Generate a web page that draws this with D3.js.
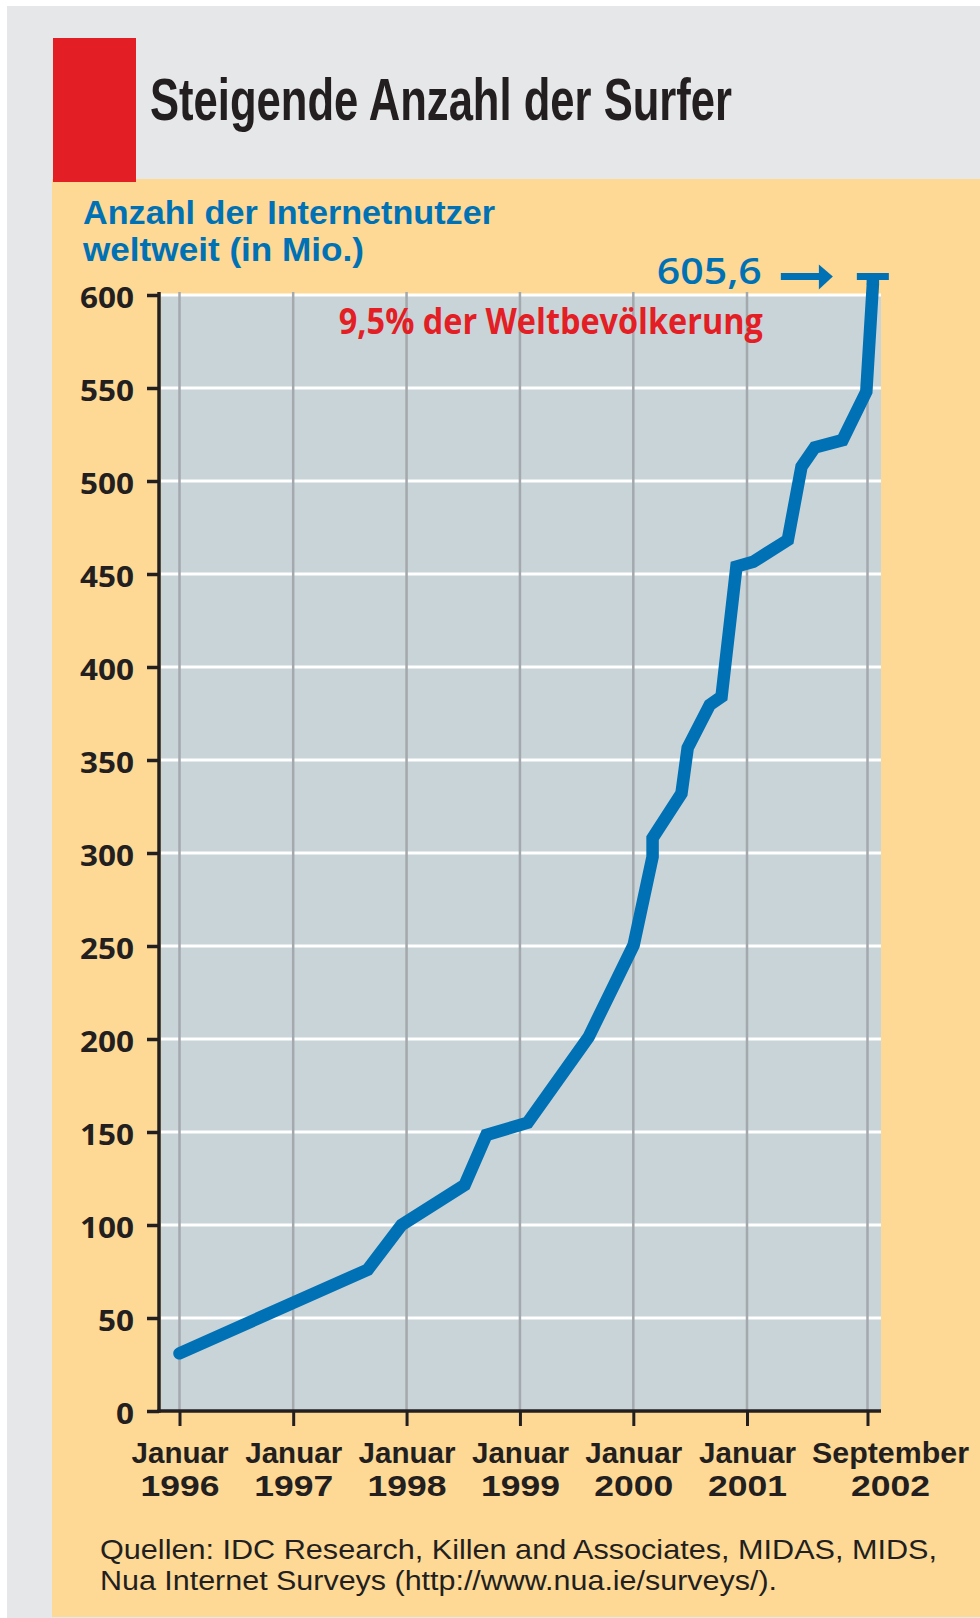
<!DOCTYPE html>
<html lang="de">
<head>
<meta charset="utf-8">
<title>Steigende Anzahl der Surfer</title>
<script src="https://cdn.jsdelivr.net/npm/d3@7"></script>
<style>
  html, body { margin: 0; padding: 0; background: #fff; }
  svg { display: block; }
</style>
</head>
<body>
<svg id="chart"></svg>
<script>
// texts
const title = "Steigende Anzahl der Surfer";
const yTitle = ["Anzahl der Internetnutzer", "weltweit (in Mio.)"];
const noteText = "9,5% der Weltbevölkerung";
const lastLabel = "605,6";
const sources = ["Quellen: IDC Research, Killen and Associates, MIDAS, MIDS,",
                 "Nua Internet Surveys (http://www.nua.ie/surveys/)."];

// data (Mio. internet users)
const dates = ["1996-01-01", "1997-08-29", "1997-12-16", "1998-07-07", "1998-09-15",
               "1999-01-26", "1999-08-10", "2000-01-02", "2000-03-03", "2000-03-03",
               "2000-06-04", "2000-06-24", "2000-09-03", "2000-10-11", "2000-11-28",
               "2001-02-02", "2001-07-26", "2001-10-03", "2001-12-09", "2002-04-28",
               "2002-08-26", "2002-09-28"];
const users = [31, 76, 100, 121.5, 148.4,
               155, 201, 250.5, 298, 308,
               332, 356.5, 379.6, 384, 454,
               456.6, 468.3, 507.7, 518, 522,
               548, 605.6];

// ticks
const tickDates = ["1996-01-01", "1997-01-01", "1998-01-01", "1999-01-01",
                   "2000-01-01", "2001-01-01", "2002-09-01"];
const tickMonths = ["Januar", "Januar", "Januar", "Januar", "Januar", "Januar", "September"];
const tickYears = ["1996", "1997", "1998", "1999", "2000", "2001", "2002"];
const yTicks = [0, 50, 100, 150, 200, 250, 300, 350, 400, 450, 500, 550, 600];

const W = 980, H = 1618;
const BLUE = "#0071b4", RED = "#e31e24", INK = "#231f20";
const narrow = "'Liberation Sans Narrow', 'Liberation Sans', Arial, sans-serif";
const tight = "'Liberation Sans', Arial, sans-serif";
const plain = "'Open Sans', 'DejaVu Sans', sans-serif";

const parse = d3.timeParse("%Y-%m-%d");
const series = dates.map((d, i) => ({date: parse(d), value: users[i]}));

const plotL = 159, plotR = 881, plotT = 295, plotB = 1411;

// the original squeezes the last 20 months, so the time scale is piecewise
const x = d3.scaleTime()
  .domain([parse("1996-01-01"), parse("2001-01-01"), parse("2002-09-01")])
  .range([179.5, 747, 867.5]);
const y = d3.scaleLinear().domain([0, 600]).range([plotB, plotT]);

const svg = d3.select("#chart").attr("width", W).attr("height", H);

function fit(sel, w) {
  return sel.attr("textLength", w).attr("lengthAdjust", "spacingAndGlyphs");
}

// two-line text in one element
function twoLines(sel, lines, x0, y0, gap, widths) {
  lines.forEach((t, i) => {
    fit(sel.append("tspan").attr("x", x0).attr(i ? "dy" : "y", i ? gap : y0).text(t), widths[i]);
  });
  return sel;
}

// frame
svg.append("rect").attr("x", 7).attr("y", 6).attr("width", W - 7).attr("height", H - 6)
  .attr("fill", "#e6e7e8");
svg.append("rect").attr("x", 52).attr("y", 179).attr("width", W - 52).attr("height", 1438)
  .attr("fill", "#fdd995");
svg.append("rect").attr("x", 53).attr("y", 38).attr("width", 83).attr("height", 144)
  .attr("fill", RED);

fit(svg.append("text").attr("x", 150).attr("y", 120)
  .style("font-family", narrow).style("font-weight", "bold").style("font-size", "60px")
  .attr("fill", INK).text(title), 582);

// y title
twoLines(svg.append("text")
  .style("font-family", narrow).style("font-weight", "bold").style("font-size", "33px")
  .attr("fill", BLUE), yTitle, 83, 224, 37, [412, 281]);

// plot area
svg.append("rect").attr("x", plotL + 2).attr("y", plotT).attr("width", plotR - plotL - 2)
  .attr("height", plotB - plotT).attr("fill", "#c9d4d9");

svg.append("g").selectAll("line").data(yTicks.filter(d => d > 0)).enter().append("line")
  .attr("x1", plotL + 2).attr("x2", plotR)
  .attr("y1", d => y(d)).attr("y2", d => y(d))
  .attr("stroke", "#fff").attr("stroke-width", 3);

svg.append("g").selectAll("line").data(tickDates).enter().append("line")
  .attr("x1", d => x(parse(d))).attr("x2", d => x(parse(d)))
  .attr("y1", plotT - 3).attr("y2", plotB)
  .attr("stroke", "#a3a9ac").attr("stroke-width", 2.5);

// y axis
const yAxis = svg.append("g").attr("transform", `translate(${plotL},0)`)
  .call(d3.axisLeft(y).tickValues(yTicks).tickSize(12).tickSizeOuter(0).tickPadding(13));
yAxis.select(".domain").remove();
yAxis.selectAll(".tick line").attr("stroke", INK).attr("stroke-width", 3.5);
yAxis.selectAll(".tick text")
  .attr("dy", "0.46em")
  .style("font-family", plain).style("font-weight", "bold").style("font-size", "28px")
  .attr("fill", INK)
  .attr("textLength", d => String(d).length * 18).attr("lengthAdjust", "spacingAndGlyphs");

// x axis
const xAxis = svg.append("g").attr("transform", `translate(0,${plotB})`)
  .call(d3.axisBottom(x).tickValues(tickDates.map(parse)).tickSize(15).tickSizeOuter(0));
xAxis.select(".domain").remove();
xAxis.selectAll(".tick line").attr("stroke", INK).attr("stroke-width", 3);
xAxis.selectAll(".tick text").remove();
xAxis.selectAll(".tick").each(function(d, i) {
  const dx = i === tickDates.length - 1 ? 22.5 : 0;
  const t = d3.select(this).append("text")
    .attr("text-anchor", "middle")
    .style("font-family", tight).style("font-weight", "bold").style("font-size", "29.5px")
    .attr("fill", INK);
  twoLines(t, [tickMonths[i], tickYears[i]], dx, 52, 33,
           [tickMonths[i] === "September" ? 157 : 97, 79]);
});

// axis lines
svg.append("line").attr("x1", plotL).attr("x2", plotL).attr("y1", plotT - 3).attr("y2", plotB + 1.75)
  .attr("stroke", INK).attr("stroke-width", 3.5);
svg.append("line").attr("x1", plotL - 1.75).attr("x2", plotR).attr("y1", plotB).attr("y2", plotB)
  .attr("stroke", INK).attr("stroke-width", 3.5);

// the series
const line = d3.line().x(d => x(d.date)).y(d => y(d.value));
svg.append("path").datum(series)
  .attr("d", line)
  .attr("fill", "none").attr("stroke", BLUE).attr("stroke-width", 12.5)
  .attr("stroke-linejoin", "miter").attr("stroke-miterlimit", 3)
  .attr("stroke-linecap", "round");

// end marker + label
const last = series[series.length - 1];
const lx = x(last.date), ly = y(last.value), barY = ly - 8;
svg.append("line").attr("x1", lx).attr("x2", lx).attr("y1", ly).attr("y2", barY)
  .attr("stroke", BLUE).attr("stroke-width", 12.5);
svg.append("line").attr("x1", lx - 16).attr("x2", lx + 16).attr("y1", barY).attr("y2", barY)
  .attr("stroke", BLUE).attr("stroke-width", 7);
svg.append("line").attr("x1", lx - 92).attr("x2", lx - 50).attr("y1", barY).attr("y2", barY)
  .attr("stroke", BLUE).attr("stroke-width", 7);
svg.append("path")
  .attr("d", `M${lx - 54},${barY - 12} L${lx - 40},${barY} L${lx - 54},${barY + 13} Z`)
  .attr("fill", BLUE);
fit(svg.append("text").attr("x", lx - 111).attr("y", barY + 7.5).attr("text-anchor", "end")
  .style("font-family", plain).style("font-weight", 600).style("font-size", "36px")
  .attr("fill", BLUE).text(lastLabel), 105);

fit(svg.append("text").attr("x", lx - 110).attr("y", y(600) + 39).attr("text-anchor", "end")
  .style("font-family", plain).style("font-weight", "bold").style("font-size", "35px")
  .attr("fill", RED).text(noteText), 424);

// sources
twoLines(svg.append("text")
  .style("font-family", narrow).style("font-size", "27.5px")
  .attr("fill", INK), sources, 100, 1559, 31, [837, 677]);
</script>
</body>
</html>
